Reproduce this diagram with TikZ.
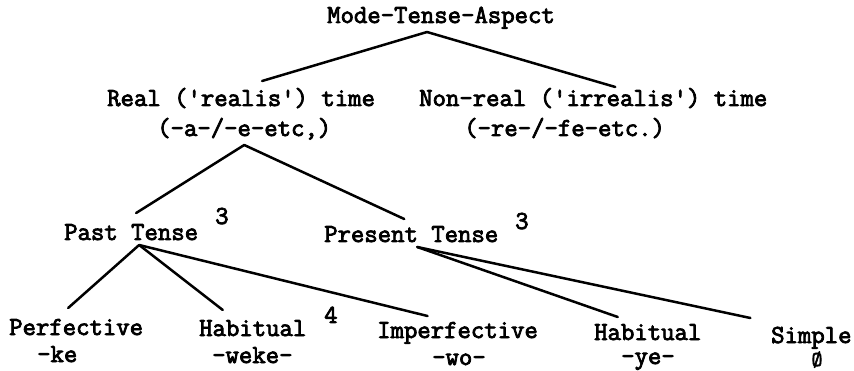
\documentclass[tikz,border=0pt]{standalone}
\usepackage{fontspec}
\newfontfamily\twfont[FakeBold=3]{Latin Modern Mono}
\usepackage{tikz}
\usetikzlibrary{positioning}

\begin{document}
\begin{tikzpicture}[x=1pt,y=-1pt,
    word/.style={inner sep=0pt,anchor=base west,
      font=\twfont\fontsize{26}{30}\selectfont},
    branch/.style={line width=2.5pt,line cap=round}]
        \useasboundingbox (0,0) rectangle (854,371);

        \node[word] (root) at (327,23) {Mode-Tense-Aspect};

        \node[word] (real) at (107,106) {Real ('realis') time};
        \node[word] (realsuf) at (157,136) {(-a-/-e-etc,)};
        \node[word] (irr) at (419,106) {Non-real ('irrealis') time};
        \node[word] (irrsuf) at (464,136) {(-re-/-fe-etc.)};

        \node[word] (past) at (64,240) {Past Tense};
        \node[word] (pastnote) at (215,224) {3};
        \node[word] (pres) at (324,242) {Present Tense};
        \node[word] (presnote) at (515,229) {3};

        \node[word] (perf) at (9,335) {Perfective};
        \node[word] (perfsuf) at (37,362) {-ke};
        \node[word] (hab) at (199,336) {Habitual};
        \node[word] (habsuf) at (212,363) {-weke-};
        \node[word] (habnote) at (324,323) {4};
        \node[word] (imp) at (377,338) {Imperfective};
        \node[word] (impsuf) at (432,365) {-wo-};
        \node[word] (prhab) at (594,340) {Habitual};
        \node[word] (prhabsuf) at (621,364) {-ye-};
        \node[word] (simp) at (771,343) {Simple};
        \node[word,anchor=base,font=\twfont\fontsize{21}{25}\selectfont] (simpsuf) at (817,366) {Ø};

        \draw[branch] ([shift={(-14,9)}]root.base) -- ([shift={(21,-25)}]real.base);
        \draw[branch] ([shift={(-14,9)}]root.base) -- ([shift={(22,-19)}]irr.base);

        \draw[branch] ([shift={(0,9)}]realsuf.base) -- ([shift={(5,-27)}]past.base);
        \draw[branch] ([shift={(0,9)}]realsuf.base) -- ([shift={(-7,-23)}]pres.base);

        \draw[branch] ([shift={(8,5)}]past.base) -- ([shift={(-8,-27)}]perf.base);
        \draw[branch] ([shift={(8,5)}]past.base) -- ([shift={(-30,-26)}]hab.base);
        \draw[branch] ([shift={(8,5)}]past.base) -- ([shift={(-30,-22)}]imp.base);

        \draw[branch] ([shift={(6,5)}]pres.base) -- ([shift={(-30,-23)}]prhab.base);
        \draw[branch] ([shift={(6,5)}]pres.base) -- ([shift={(-61,-25)}]simp.base);
    \end{tikzpicture}
\end{document}
